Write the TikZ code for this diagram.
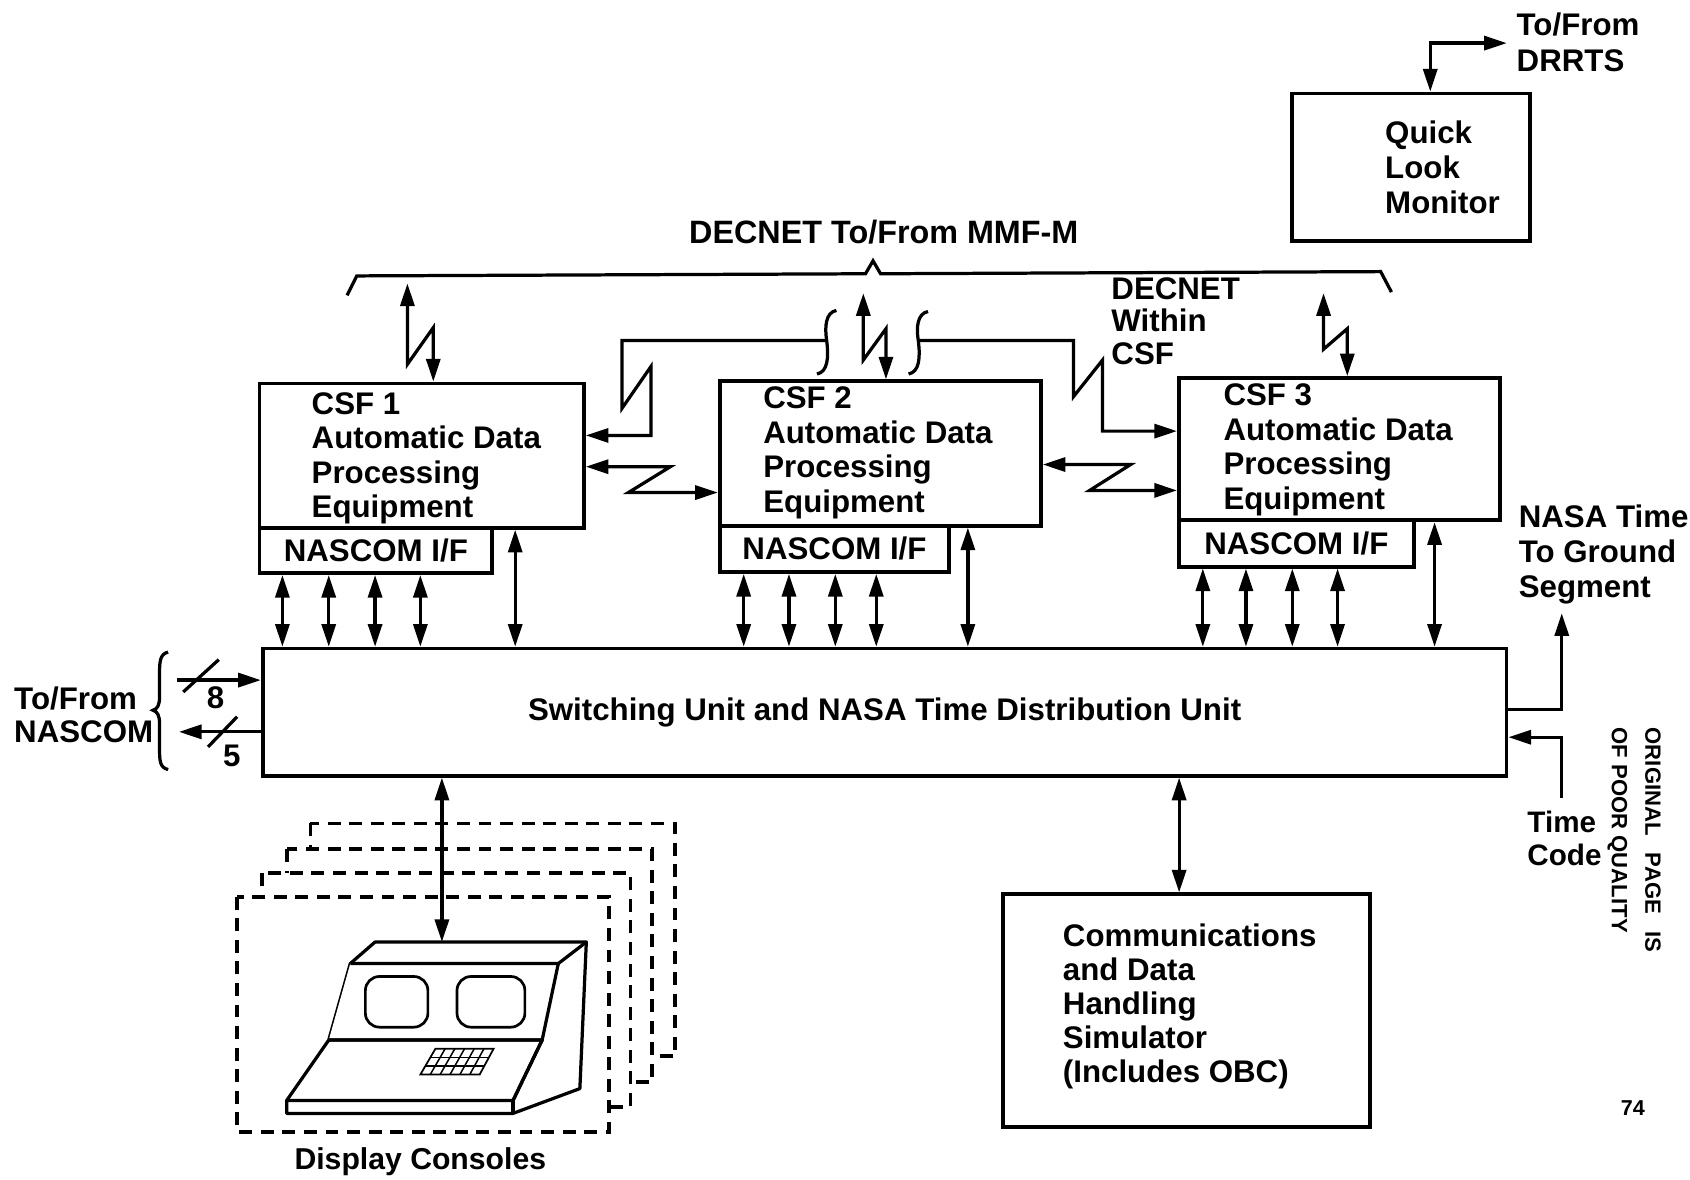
\documentclass[tikz,border=0pt]{standalone}
\usepackage{fontspec}
\setmainfont{Liberation Sans}
\usetikzlibrary{arrows.meta}
\begin{document}
\begin{tikzpicture}[x=1pt,y=-1pt,
  >={Triangle[length=21pt,width=13pt]},
  box/.style={draw,line width=3.5pt,fill=white,inner sep=0pt,anchor=north west},
  wire/.style={line width=3pt,line join=miter},
  txt/.style={font=\bfseries\fontsize{29}{32}\selectfont,inner sep=0pt,align=left,anchor=north west},
  ifbox/.style={box,font=\bfseries\fontsize{29}{32}\selectfont},
  ghost/.style={draw,fill=white,line width=3.5pt,dash pattern=on 12pt off 8pt},
  unit/.style={line width=3pt,line join=round,fill=white}
]
\useasboundingbox (0,0) rectangle (1568,1094);

% ---------- boxes ----------
\node[box,minimum width=221pt,minimum height=137pt] (ql) at (1197,85) {};
\node[box,minimum width=301pt,minimum height=134pt] (csf1) at (239,354) {};
\node[ifbox,minimum width=216pt,minimum height=42pt] (csf1n) at (239,488) {NASCOM I/F};
\node[box,minimum width=298pt,minimum height=134pt] (csf2) at (666,352) {};
\node[ifbox,minimum width=213pt,minimum height=43pt] (csf2n) at (666,486) {NASCOM I/F};
\node[box,minimum width=298pt,minimum height=132pt] (csf3) at (1092,349) {};
\node[ifbox,minimum width=218pt,minimum height=43pt] (csf3n) at (1092,481) {NASCOM I/F};
\node[box,minimum width=1154pt,minimum height=118pt] (swu) at (242,600) {};
\node[txt,anchor=center] (swut) at (swu.center) {Switching Unit and NASA Time Distribution Unit};
\node[box,minimum width=340pt,minimum height=216pt] (cdh) at (929,828) {};

% ---------- texts ----------
\node[txt,font=\bfseries\fontsize{29}{32.5}\selectfont] (tql) at (1285,112) {Quick\\Look\\Monitor};
\node[txt,font=\bfseries\fontsize{29}{33}\selectfont] (tdr) at (1407,12) {To/From\\DRRTS};
\node[txt,anchor=center,font=\bfseries\fontsize{30}{32}\selectfont] (tdn) at (820,215) {DECNET To/From MMF-M};
\node[txt,font=\bfseries\fontsize{29}{30.5}\selectfont] (tdw) at (1031,257) {DECNET\\Within\\CSF};
\node[txt] (t1) at (289,364) {CSF 1\\Automatic Data\\Processing\\Equipment};
\node[txt] (t2) at (708,359) {CSF 2\\Automatic Data\\Processing\\Equipment};
\node[txt] (t3) at (1135,356) {CSF 3\\Automatic Data\\Processing\\Equipment};
\node[txt,font=\bfseries\fontsize{29}{32.5}\selectfont] (tnt) at (1409,468) {NASA Time\\To Ground\\Segment};
\node[txt,font=\bfseries\fontsize{27.5}{31}\selectfont] (ttc) at (1417,752) {Time\\Code};
\node[txt,font=\bfseries\fontsize{29}{31}\selectfont] (tnc) at (13,637) {To/From\\NASCOM};
\node[txt,font=\bfseries\fontsize{29}{31.5}\selectfont] (tcd) at (986,857) {Communications\\and Data\\Handling\\Simulator\\(Includes OBC)};
\node[txt,anchor=center,font=\bfseries\fontsize{28}{30}\selectfont] (tdc) at (390,1078) {Display Consoles};
\node[txt,anchor=center] (n8) at (200,647) {8};
\node[txt,anchor=center] (n5) at (215,701) {5};
\node[inner sep=0pt,rotate=-90,anchor=north west,align=left,font=\bfseries\fontsize{20.5}{31}\selectfont] (tpq) at (1541,675) {ORIGINAL\hspace{16pt}PAGE\hspace{16pt}IS\\OF POOR QUALITY};
\node[inner sep=0pt,font=\bfseries\fontsize{20}{20}\selectfont] (pg) at (1515,1028) {74};

% ---------- DECNET bus to MMF-M ----------
\draw[wire] (322,274) -- (331,256) -- (803,254) -- (810,242) -- (817,254) -- (1281,252) -- (1291,271);
\coordinate (d1) at (378,263);
\coordinate (d2) at (801,272);
\coordinate (d3) at (1228,272);
\draw[wire,<->] (d1) -- (378,338) -- (402,304) -- (402,0 |- csf1.north);
\draw[wire,<->] (d2) -- (801,334) -- (822,305) -- (822,0 |- csf2.north);
\draw[wire,<->] (d3) -- (1228,324) -- (1250,305) -- (1250,0 |- csf3.north);

% ---------- DECNET within CSF ----------
\coordinate (sL) at (767,316);
\coordinate (sR) at (852,316);
\draw[wire] (776,288) .. controls (766,290) and (765,303) .. (sL) .. controls (769,332) and (768,345) .. (758,347);
\draw[wire] (861,289) .. controls (851,291) and (850,304) .. (sR) .. controls (854,332) and (853,345) .. (843,347);
\draw[wire,->] (sL) -- (577,316) -- (577,379) -- (604,340) -- (604,404) -- (csf1.east |- 0,404);
\draw[wire,->] (sR) -- (996,316) -- (996,368) -- (1023,334) -- (1023,400) -- (csf3.west |- 0,400);
\draw[wire,<->] (csf1.east |- 0,433) -- (622,433) -- (583,457) -- (csf2.west |- 0,457);
\draw[wire,<->] (csf2.east |- 0,431) -- (1049,431) -- (1011,455) -- (csf3.west |- 0,455);

% ---------- CSF to switching unit ----------
\foreach \x in {262,305,348,390} \draw[wire,<->] (\x,0 |- csf1n.south) -- (\x,0 |- swu.north);
\draw[wire,<->] (478,0 |- csf1.south) -- (478,0 |- swu.north);
\foreach \x in {690,732,775,813} \draw[wire,<->] (\x,0 |- csf2n.south) -- (\x,0 |- swu.north);
\draw[wire,<->] (898,0 |- csf2.south) -- (898,0 |- swu.north);
\foreach \x in {1116,1156,1199,1241} \draw[wire,<->] (\x,0 |- csf3n.south) -- (\x,0 |- swu.north);
\draw[wire,<->] (1331,0 |- csf3.south) -- (1331,0 |- swu.north);

% ---------- Quick Look link ----------
\coordinate (drr) at (1398,40);
\draw[wire,<->] (1327,0 |- ql.north) -- (1327,40) -- (drr);

% ---------- NASCOM lines ----------
\coordinate (nin) at (164,631);
\coordinate (nout) at (166,679);
\draw[wire,->] (nin) -- (swu.west |- nin);
\draw[wire,->] (swu.west |- nout) -- (nout);
\draw[wire] (170,642) -- (203,612);
\draw[wire] (193,693) -- (220,665);
\draw[wire] (156,605) .. controls (148,607) and (148,614) .. (148,628) -- (148,647)
  .. controls (148,654) and (146,658) .. (142,659) .. controls (146,660) and (148,664) .. (148,671)
  -- (148,692) .. controls (148,706) and (148,712) .. (156,714);

% ---------- time lines ----------
\coordinate (tgs) at (1449,569);
\coordinate (tcode) at (1449,740);
\draw[wire,->] (swu.east |- 0,658) -- (1449,658) -- (tgs);
\draw[wire,->] (tcode) -- (1449,684) -- (swu.east |- 0,684);

% ---------- display consoles ----------
\draw[ghost] (288,764) rectangle (626,980);
\draw[ghost] (266,788) rectangle (605,1004);
\draw[ghost] (243,810) rectangle (585,1027);
\draw[ghost] (220,832) rectangle (565,1050);

\coordinate (cA) at (348,874);
\coordinate (cB) at (544,874);
\coordinate (cC) at (325,894);
\coordinate (cD) at (518,894);
\coordinate (cE) at (305,965);
\coordinate (cF) at (503,965);
\coordinate (cG) at (266,1021);
\coordinate (cH) at (476,1021);
\coordinate (cI) at (266,1033);
\coordinate (cJ) at (476,1033);
\coordinate (cK) at (538,1010);
\draw[unit] (cA) -- (cB) -- (cK) -- (cJ) -- (cI) -- (cG) -- (cE) -- (cC) -- cycle;
\draw[unit] (cC) -- (cD) -- (cF) -- (cE);
\draw[unit] (cD) -- (cB);
\draw[unit,fill=none] (cE) -- (cF) -- (cH) -- (cG);
\draw[unit,fill=none] (cH) -- (cJ);
\draw[unit,fill=none] (cH) -- (cF);
\draw[line width=2.5pt,rounded corners=13pt] (339,906) rectangle (397,953);
\draw[line width=2.5pt,rounded corners=13pt] (424,906) rectangle (487,953);
% keypad
\draw[line width=1.6pt] (404,973) -- (458,973) -- (445,997) -- (390,997) -- cycle;
\foreach \k in {1,2}
  \draw[line width=1.4pt] ({404-14*\k/3},{973+8*\k}) -- ({458-13*\k/3},{973+8*\k});
\foreach \k in {1,...,5}
  \draw[line width=1.4pt] ({404+9*\k},973) -- ({390+9.17*\k},997);

\draw[wire,<->] (410,0 |- swu.south) -- (410,0 |- cA);
\draw[wire,<->] (1094,0 |- swu.south) -- (1094,0 |- cdh.north);
\end{tikzpicture}
\end{document}
